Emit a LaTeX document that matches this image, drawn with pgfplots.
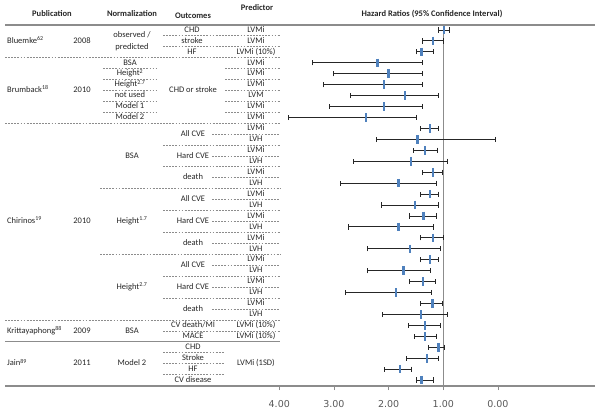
\documentclass[border=0pt]{standalone}
\usepackage{pgfplots}
\pgfplotsset{compat=1.18}
\usepackage{pgfplotstable}
\usepackage{fontspec}
\setmainfont{Carlito}
\newfontfamily\tickfont{DejaVu Sans}
\definecolor{mblue}{HTML}{4F81BD}
\definecolor{txt}{HTML}{262626}
\definecolor{tick}{HTML}{595959}
\definecolor{rule}{HTML}{8C8C8C}

% y = -row, m = hazard ratio, lo / hi = 95% CI
\pgfplotstableread{
y    m     lo    hi
-1   0.99  0.88  1.08
-2   1.19  0.99  1.38
-3   1.40  1.18  1.49
-4   2.20  1.38  3.40
-5   2.00  1.38  3.00
-6   2.09  1.38  3.19
-7   1.70  1.09  2.69
-8   2.09  1.38  3.09
-9   2.41  1.49  3.83
-10  1.24  1.09  1.41
-11  1.47  0.05  2.22
-12  1.33  1.11  1.55
-13  1.59  0.93  2.64
-14  1.19  1.01  1.38
-15  1.82  1.13  2.88
-16  1.24  1.09  1.42
-17  1.52  1.09  2.14
-18  1.36  1.13  1.61
-19  1.82  1.18  2.74
-20  1.19  1.00  1.41
-21  1.61  1.05  2.38
-22  1.24  1.09  1.42
-23  1.73  1.23  2.39
-24  1.37  1.15  1.61
-25  1.86  1.21  2.79
-26  1.20  1.01  1.41
-27  1.41  0.93  2.12
-28  1.33  1.06  1.64
-29  1.33  1.13  1.52
-30  1.09  0.98  1.28
-31  1.30  1.09  1.68
-32  1.79  1.58  2.08
-33  1.40  1.18  1.49
}\hrdata

\begin{document}
\begin{tikzpicture}
\useasboundingbox (0,0) rectangle (600pt,-414pt);
\begin{axis}[
  at={(5pt,-386pt)}, anchor=south west,
  scale only axis, width=590pt, height=361pt,
  x dir=reverse,
  xmin=-1.775, xmax=9.017, ymin=-33.54, ymax=-0.543,
  axis x line*=bottom, axis y line=none,
  x axis line style={rule, line width=1.3pt, -},
  xtick={0,1,2,3,4},
  xticklabels={0.00,1.00,2.00,3.00,4.00},
  tick align=outside, major tick length=4pt,
  x tick style={rule, line width=0.6pt},
  xticklabel style={font=\tickfont\fontsize{9.5}{11}\selectfont, text=tick, yshift=-7pt},
  /pgf/number format/assume math mode=true,
  clip=false,
]
\draw[rule, line width=0.9pt] (axis cs:1,-0.543) -- (axis cs:1,-33.54);
\addplot[only marks, mark=|, mark size=4.3pt,
  mark options={line width=2.4pt, color=mblue},
  error bars/.cd, x dir=both, x explicit,
  error bar style={black!85, line width=0.9pt},
  error mark options={black!85, line width=0.9pt, mark size=2.6pt, rotate=90}]
  table[x=m, y=y,
        x error plus expr=\thisrow{hi}-\thisrow{m},
        x error minus expr=\thisrow{m}-\thisrow{lo}] {\hrdata};
\end{axis}

% header
\draw[rule, line width=1.6pt] (5pt,-25pt) -- (595pt,-25pt);
\begin{scope}[every node/.style={inner sep=0pt, text=txt, font=\fontsize{8.5}{10}\selectfont\bfseries}]
\node at (52pt,-14pt) {Publication};
\node at (132pt,-14pt) {Normalization};
\node at (193pt,-15.5pt) {Outcomes};
\node at (257pt,-7.5pt) {Predictor};
\node at (432pt,-14pt) {Hazard Ratios (95\% Confidence Interval)};
\end{scope}

% table body (x in px, y in rows)
\begin{scope}[x=1pt, y=-10.94pt, yshift=-19.06pt,
  every node/.style={inner sep=0pt, text=txt, font=\fontsize{8.5}{10}\selectfont, text height=6pt, text depth=1.6pt},
  dl/.style={rule, line width=0.55pt, dash pattern=on 1.8pt off 1.3pt}]
% Bluemke
\node[anchor=west] at (7,2) {Bluemke\textsuperscript{62}};
\node at (82,2) {2008};
\node at (132,1.45) {observed /};
\node at (132,2.55) {predicted};
\node at (192,1) {CHD}; \node at (192,2) {stroke}; \node at (192,3) {HF};
\node at (256,1) {LVMi}; \node at (256,2) {LVMi}; \node at (256,3) {LVMi (10\%)};
\draw[dl] (163,1.5) -- (280,1.5);
\draw[dl] (163,2.5) -- (280,2.5);
\draw[dl] (5,3.5) -- (280,3.5);
% Brumback
\node[anchor=west] at (7,6.5) {Brumback\textsuperscript{18}};
\node at (82,6.5) {2010};
\node at (130,4) {BSA};
\node at (130,5) {Height\textsuperscript{2}};
\node at (130,6) {Height\textsuperscript{2.7}};
\node at (130,7) {not used};
\node at (130,8) {Model 1};
\node at (130,9) {Model 2};
\node at (193,6.5) {CHD or stroke};
\node at (256,4) {LVMi}; \node at (256,5) {LVMi}; \node at (256,6) {LVMi};
\node at (256,7) {LVM}; \node at (256,8) {LVMi}; \node at (256,9) {LVMi};
\foreach \r in {4.5,5.5,6.5,7.5,8.5} {
  \draw[dl] (103,\r) -- (157,\r);
  \draw[dl] (225,\r) -- (280,\r);
}
\draw[dl] (5,9.5) -- (280,9.5);
% Chirinos
\node[anchor=west] at (7,18.5) {Chirinos\textsuperscript{19}};
\node at (82,18.5) {2010};
\node at (132,12.5) {BSA};
\node at (132,18.5) {Height\textsuperscript{1.7}};
\node at (132,24.5) {Height\textsuperscript{2.7}};
\foreach \g in {0,6,12} {
  \node at (193,10.5+\g) {All CVE};
  \node at (193,12.5+\g) {Hard CVE};
  \node at (193,14.5+\g) {death};
  \foreach \k in {0,2,4} {
    \node at (256,10+\g+\k) {LVMi};
    \node at (256,11+\g+\k) {LVH};
    \draw[dl] (212,10.5+\g+\k) -- (280,10.5+\g+\k);
  }
  \draw[dl] (163,11.5+\g) -- (280,11.5+\g);
  \draw[dl] (163,13.5+\g) -- (280,13.5+\g);
}
\draw[dl] (100,15.5) -- (280,15.5);
\draw[dl] (100,21.5) -- (280,21.5);
\draw[dl] (5,27.5) -- (280,27.5);
% Krittayaphong
\node[anchor=west] at (7,28.5) {Krittayaphong\textsuperscript{88}};
\node at (82,28.5) {2009};
\node at (132,28.5) {BSA};
\node at (193,28) {CV death/MI}; \node at (193,29) {MACE};
\node at (256,28) {LVMi (10\%)}; \node at (256,29) {LVMi (10\%)};
\draw[dl] (163,28.5) -- (280,28.5);
\draw[rule, line width=1.1pt] (5,29.5) -- (280,29.5);
% Jain
\node[anchor=west] at (7,31.5) {Jain\textsuperscript{89}};
\node at (82,31.5) {2011};
\node at (132,31.5) {Model 2};
\node at (193,30) {CHD}; \node at (193,31) {Stroke};
\node at (193,32) {HF}; \node at (193,33) {CV disease};
\node at (256,31.5) {LVMi (1SD)};
\foreach \r in {30.5,31.5,32.5} { \draw[dl] (163,\r) -- (224,\r); }
\end{scope}
\end{tikzpicture}
\end{document}
